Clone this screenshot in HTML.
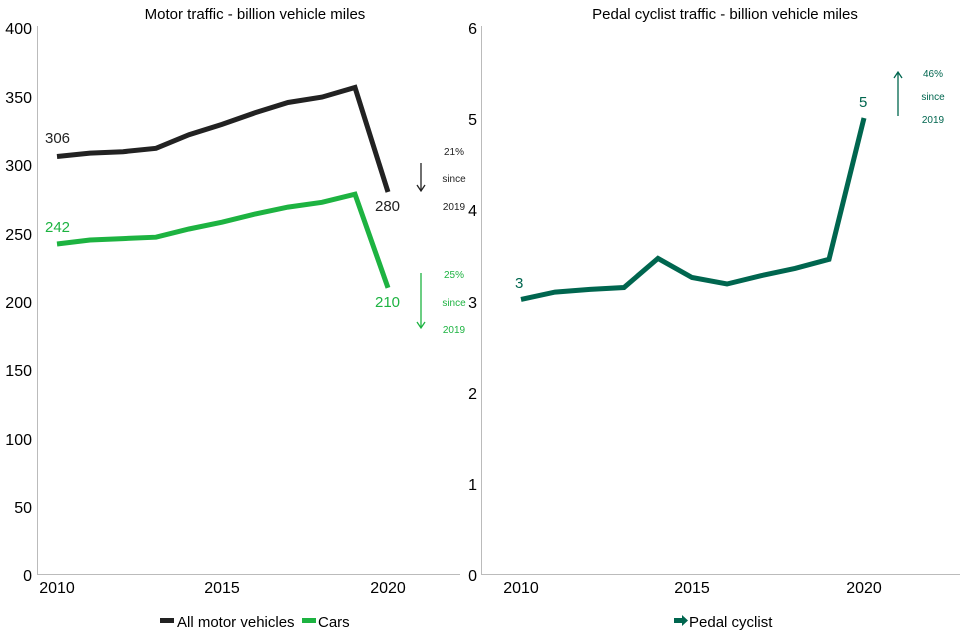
<!DOCTYPE html><html><head><style>body{margin:0;background:#fff}svg{display:block}text{font-family:"Liberation Sans",sans-serif}</style></head><body>
<svg width="960" height="640" xmlns="http://www.w3.org/2000/svg">
<g font-size="16" fill="#000">
<text x="255" y="19" text-anchor="middle" font-size="15">Motor traffic - billion vehicle miles</text>
<text x="725" y="19" text-anchor="middle" font-size="15">Pedal cyclist traffic - billion vehicle miles</text>
<line x1="37.5" y1="26" x2="37.5" y2="574" stroke="#bbb"/>
<line x1="37" y1="574.5" x2="460" y2="574.5" stroke="#bbb"/>
<line x1="481.5" y1="26" x2="481.5" y2="574" stroke="#bbb"/>
<line x1="481" y1="574.5" x2="960" y2="574.5" stroke="#bbb"/>
<g text-anchor="end">
<text x="32" y="34">400</text><text x="32" y="103">350</text><text x="32" y="171">300</text><text x="32" y="240">250</text><text x="32" y="308">200</text><text x="32" y="376">150</text><text x="32" y="445">100</text><text x="32" y="513">50</text><text x="32" y="581">0</text>
<text x="477" y="34">6</text><text x="477" y="125">5</text><text x="477" y="216">4</text><text x="477" y="308">3</text><text x="477" y="399">2</text><text x="477" y="490">1</text><text x="477" y="581">0</text>
</g>
<g text-anchor="middle">
<text x="57" y="593">2010</text><text x="222" y="593">2015</text><text x="388" y="593">2020</text>
<text x="521" y="593">2010</text><text x="692" y="593">2015</text><text x="864" y="593">2020</text>
</g>
</g>
<polyline fill="none" stroke="#222" stroke-width="5" points="57,156.5 90,153.1 123,151.7 156,148.3 189,134.7 222,124.4 255,112.8 288,102.5 322,97.1 355,87.5 388,192"/>
<polyline fill="none" stroke="#1db341" stroke-width="5" points="57,244 90,240 123,238.6 156,237.2 189,229 222,222.2 255,214 288,207.1 322,202.3 355,194.2 388,287.8"/>
<polyline fill="none" stroke="#00664f" stroke-width="5" points="521,299.4 555,292.1 590,289.4 624,287.5 658,258.4 692,277.5 727,284 761,275.7 795,268.4 829,259.3 864,118"/>
<g font-size="15">
<text x="45" y="143" fill="#222">306</text><text x="375" y="211" fill="#222">280</text>
<text x="45" y="232" fill="#1db341">242</text><text x="375" y="307" fill="#1db341">210</text>
<text x="515" y="288" fill="#00664f">3</text><text x="859" y="107" fill="#00664f">5</text>
</g>
<g font-size="10" text-anchor="middle">
<text x="454" y="155" fill="#222">21%</text><text x="454" y="182" fill="#222">since</text><text x="454" y="210" fill="#222">2019</text>
<text x="454" y="278" fill="#1db341">25%</text><text x="454" y="306" fill="#1db341">since</text><text x="454" y="333" fill="#1db341">2019</text>
<text x="933" y="77" fill="#00664f">46%</text><text x="933" y="100" fill="#00664f">since</text><text x="933" y="123" fill="#00664f">2019</text>
</g>
<g fill="none" stroke-width="1.3">
<path d="M421,163V191M417,185L421,191L425,185" stroke="#222"/>
<path d="M421,273V328M417,322L421,328L425,322" stroke="#1db341"/>
<path d="M898,116V72M894,78L898,72L902,78" stroke="#00664f"/>
</g>
<g font-size="15">
<rect x="160" y="618" width="14" height="5" fill="#222"/><text x="177" y="627">All motor vehicles</text>
<rect x="302" y="618" width="14" height="5" fill="#1db341"/><text x="318" y="627">Cars</text>
<path d="M674,618H682V615L688,620.5L682,626V623H674Z" fill="#00664f"/><text x="689" y="627">Pedal cyclist</text>
</g>
</svg></body></html>
